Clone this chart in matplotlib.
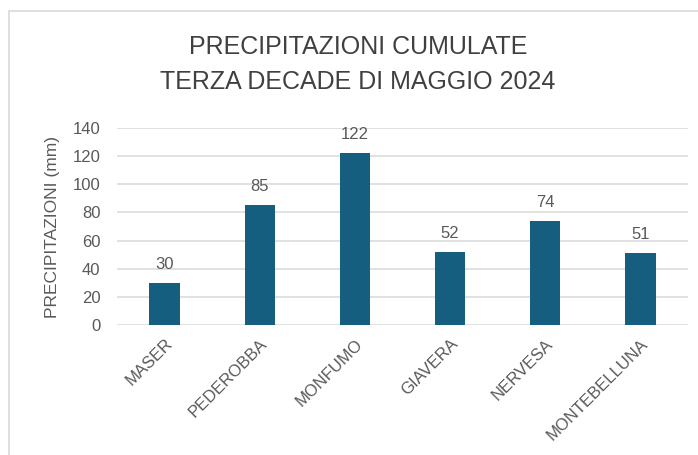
import matplotlib
matplotlib.use("Agg")
import matplotlib.pyplot as plt
from matplotlib.patches import Rectangle

stations = ["MASER", "PEDEROBBA", "MONFUMO", "GIAVERA", "NERVESA", "MONTEBELLUNA"]
rain_mm = [30, 85, 122, 52, 74, 51]
y_ticks = [0, 20, 40, 60, 80, 100, 120, 140]

title_lines = ["PRECIPITAZIONI CUMULATE", "TERZA DECADE DI MAGGIO 2024"]
y_label = "PRECIPITAZIONI (mm)"

bar_color = "#165E80"
text_color = "#595959"
grid_color = "#D9D9D9"

plt.rcParams["font.family"] = ["Liberation Sans", "DejaVu Sans"]

fig = plt.figure(figsize=(6.98, 4.55), dpi=100)
ax = fig.add_axes([117 / 698, 1 - 325 / 455, (688 - 117) / 698, (325 - 128) / 455])

# chart border (runs off the right and bottom of the picture)
fig.patches.append(Rectangle((9 / 698, -0.1), 1.2, 1.1 - 11 / 455,
                             transform=fig.transFigure, fill=False,
                             edgecolor=grid_color, linewidth=1.2))

x = range(len(stations))
bars = ax.bar(x, rain_mm, width=0.32, color=bar_color, zorder=3)
for b, v in zip(bars, rain_mm):
    ax.text(b.get_x() + b.get_width() / 2, v + 8, str(v), ha="center", va="bottom",
            fontsize=12, color=text_color)

ax.set_xlim(-0.5, len(stations) - 0.5)
ax.set_ylim(0, 140)
ax.set_yticks(y_ticks)
ax.yaxis.grid(True, color=grid_color, linewidth=1.1, zorder=0)
ax.set_axisbelow(True)
for s in ax.spines.values():
    s.set_visible(False)
ax.tick_params(length=0, labelsize=12, colors=text_color, pad=12)
ax.tick_params(axis="x", pad=8)

ax.set_xticks(list(x))
ax.set_xticklabels(stations, rotation=45, ha="right", va="top",
                   rotation_mode="anchor", fontsize=12, color=text_color)

ax.set_ylabel(y_label, fontsize=12.5, color=text_color, labelpad=9)

fig.text(358 / 698, 1 - 47 / 455, title_lines[0], ha="center", va="center",
         fontsize=18, color="#404040")
fig.text(358 / 698, 1 - 82 / 455, title_lines[1], ha="center", va="center",
         fontsize=18, color="#404040")

fig.savefig("out.png", dpi=100)
